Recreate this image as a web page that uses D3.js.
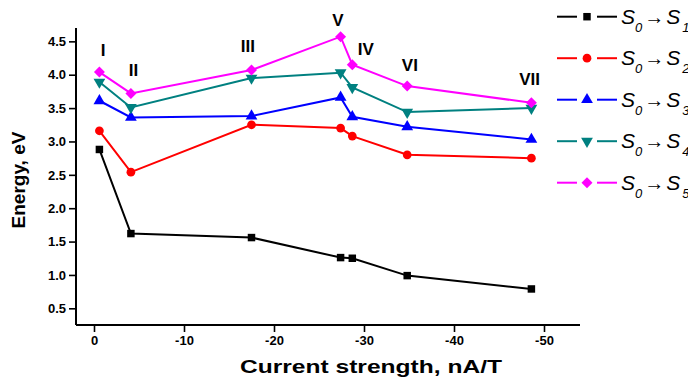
<!DOCTYPE html>
<html>
<head>
<meta charset="utf-8">
<script src="https://cdn.jsdelivr.net/npm/d3@7"></script>
<style>
  body { margin: 0; background: #fff; }
  svg { display: block; font-family: Arial, 'Liberation Sans', sans-serif; }
</style>
</head>
<body>
<div class="chart"></div>
<script>
// current strength of each structure (nA/T)
const current = [-0.6, -4.1, -17.5, -27.4, -28.7, -34.8, -48.6];

// excitation energies, eV
const s1 = [2.88, 1.62, 1.56, 1.26, 1.25, 0.99, 0.79];
const s2 = [3.16, 2.54, 3.25, 3.20, 3.08, 2.80, 2.75];
const s3 = [3.61, 3.36, 3.38, 3.66, 3.37, 3.22, 3.03];
const s4 = [3.89, 3.51, 3.95, 4.03, 3.81, 3.44, 3.50];
const s5 = [4.04, 3.72, 4.07, 4.57, 4.15, 3.83, 3.58];

const seriesNames = ['1', '2', '3', '4', '5'];
const seriesColors = ['#000000', '#ff0000', '#0000ff', '#008080', '#ff00ff'];

// structure labels, placed in data units
const romans = ['I', 'II', 'III', 'V', 'IV', 'VI', 'VII'];
const romanX = [-1.0, -4.4, -17.1, -27.1, -30.2, -35.1, -48.4];
const romanY = [4.37, 4.07, 4.43, 4.82, 4.39, 4.15, 3.94];

const xTicks = [0, -10, -20, -30, -40, -50];
const yTicks = [0.5, 1.0, 1.5, 2.0, 2.5, 3.0, 3.5, 4.0, 4.5];

const width = 688, height = 377;

var svg = d3.select('.chart').append('svg')
  .attr('width', width)
  .attr('height', height);

var x = d3.scaleLinear().domain([2, -54]).range([76, 580]);
var y = d3.scaleLinear().domain([0.25, 4.7]).range([325, 28]);

// axes
var xAxis = d3.axisBottom(x).tickValues(xTicks).tickFormat(d3.format('d'))
  .tickSize(7).tickPadding(4);
var xMinor = d3.axisBottom(x).tickValues(d3.range(2, -54, -2)).tickFormat('').tickSize(4);
var yAxis = d3.axisLeft(y).tickValues(yTicks).tickFormat(d3.format('.1f'))
  .tickSize(7).tickPadding(3);
var yMinor = d3.axisLeft(y).tickValues(d3.range(0.25, 4.7, 0.25)).tickFormat('').tickSize(4);

var gx = svg.append('g').attr('transform', 'translate(0,325)');
gx.call(xMinor);
gx.call(xAxis);
var gy = svg.append('g').attr('transform', 'translate(76,0)');
gy.call(yMinor);
gy.call(yAxis);

svg.selectAll('.domain').attr('stroke', '#000').attr('stroke-width', 2).attr('d', null);
gx.selectAll('.domain').attr('d', 'M76,0H580');
gy.selectAll('.domain').attr('d', 'M0,28V325');
svg.selectAll('.tick line').attr('stroke', '#000').attr('stroke-width', 1.6);
svg.selectAll('.tick text')
  .attr('fill', '#000')
  .style('font-size', '13px')
  .style('font-weight', 'bold')
  .style('font-family', "Arial, 'Liberation Sans', sans-serif");
// origin-style minus sign is a hyphen
gx.selectAll('.tick text').text(d => d === 0 ? '0' : '-' + Math.abs(d));

// axis titles
svg.append('text')
  .attr('x', 371).attr('y', 373)
  .attr('text-anchor', 'middle')
  .attr('textLength', 262)
  .attr('lengthAdjust', 'spacingAndGlyphs')
  .style('font-size', '19px').style('font-weight', 'bold')
  .text('Current strength, nA/T');

svg.append('text')
  .attr('transform', 'translate(25,180) rotate(-90)')
  .attr('text-anchor', 'middle')
  .style('font-size', '19px').style('font-weight', 'bold')
  .text('Energy, eV');

// marker shapes
var symbols = [
  d3.symbol().type(d3.symbolSquare).size(56),
  d3.symbol().type(d3.symbolCircle).size(60),
  d3.symbol().type(d3.symbolTriangle).size(60),
  d3.symbol().type(d3.symbolTriangle).size(60),
  d3.symbol().type(d3.symbolSquare).size(60)
];
var rotations = [0, 0, 0, 180, 45];

var allSeries = [s1, s2, s3, s4, s5];

var line = d3.line()
  .x((d, i) => x(current[i]))
  .y(d => y(d));

allSeries.forEach(function (vals, k) {
  var g = svg.append('g').attr('class', 'series');
  g.append('path')
    .attr('d', line(vals))
    .attr('fill', 'none')
    .attr('stroke', seriesColors[k])
    .attr('stroke-width', 2);
  g.selectAll('path.marker')
    .data(vals)
    .enter()
    .append('path')
    .attr('class', 'marker')
    .attr('d', symbols[k]())
    .attr('fill', seriesColors[k])
    .attr('transform', (d, i) => 'translate(' + x(current[i]) + ',' + y(d) + ') rotate(' + rotations[k] + ')');
});

// roman numerals
svg.selectAll('text.roman')
  .data(romans)
  .enter()
  .append('text')
  .attr('class', 'roman')
  .attr('x', (d, i) => x(romanX[i]))
  .attr('y', (d, i) => y(romanY[i]))
  .attr('dy', '0.36em')
  .attr('text-anchor', 'middle')
  .style('font-size', '17px').style('font-weight', 'bold')
  .text(d => d);

// legend
var legend = svg.append('g').attr('transform', 'translate(557,0)');
var rowY = d3.scaleLinear().domain([0, 4]).range([16.7, 182.7]);

seriesNames.forEach(function (n, k) {
  var row = legend.append('g').attr('transform', 'translate(0,' + rowY(k) + ')');
  row.append('line').attr('x1', 0).attr('x2', 20)
    .attr('stroke', seriesColors[k]).attr('stroke-width', 2);
  row.append('line').attr('x1', 40).attr('x2', 60)
    .attr('stroke', seriesColors[k]).attr('stroke-width', 2);
  row.append('path')
    .attr('d', symbols[k]())
    .attr('fill', seriesColors[k])
    .attr('transform', 'translate(30,0) rotate(' + rotations[k] + ')');

  var t = row.append('text')
    .attr('x', 64).attr('y', 7)
    .style('font-size', '21px')
    .style('font-style', 'italic');
  t.append('tspan').text('S');
  t.append('tspan').attr('dy', 8).style('font-size', '13px').text('0');
  t.append('tspan').attr('dy', -8).attr('dx', 2).style('font-style', 'normal').style('font-size', '20px').text('\u2192');
  t.append('tspan').attr('dx', 2).text('S');
  t.append('tspan').attr('dy', 8).attr('dx', 2).style('font-size', '13px').text(n);
});
</script>
</body>
</html>
